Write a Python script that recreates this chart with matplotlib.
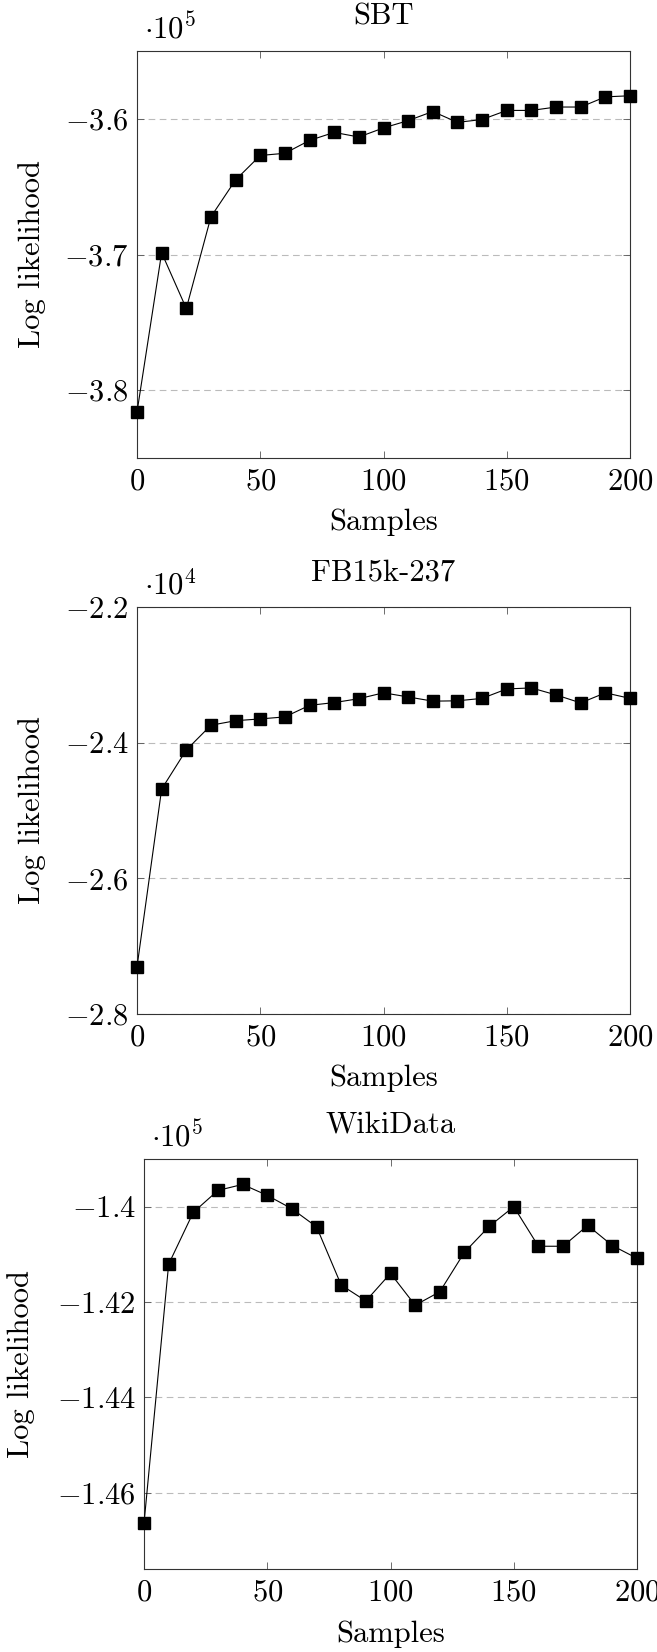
import matplotlib
matplotlib.use("Agg")
import matplotlib.pyplot as plt
from matplotlib.ticker import FixedLocator

# data (values in units of the offset shown at the top)
samples = [0, 10, 20, 30, 40, 50, 60, 70, 80, 90, 100,
           110, 120, 130, 140, 150, 160, 170, 180, 190, 200]

sbt = [-3.8162, -3.6987, -3.7398, -3.6722, -3.6450, -3.6270, -3.6254,
       -3.6159, -3.6100, -3.6134, -3.6067, -3.6013, -3.5946, -3.6026,
       -3.6005, -3.5938, -3.5938, -3.5913, -3.5913, -3.5838, -3.5830]

fb15k = [-2.7306, -2.4684, -2.4108, -2.3743, -2.3676, -2.3650, -2.3620,
         -2.3450, -2.3409, -2.3352, -2.3265, -2.3326, -2.3388, -2.3383,
         -2.3347, -2.3208, -2.3193, -2.3296, -2.3414, -2.3265, -2.3347]

wikidata = [-1.46645, -1.41207, -1.40119, -1.39659, -1.39533, -1.39763,
            -1.40044, -1.40423, -1.41644, -1.41978, -1.41399, -1.42067,
            -1.41785, -1.40956, -1.40415, -1.40000, -1.40830, -1.40830,
            -1.40393, -1.40816, -1.41083]

titles = ["SBT", "FB15k-237", "WikiData"]
offsets = [r"$\cdot 10^5$", r"$\cdot 10^4$", r"$\cdot 10^5$"]
yticks = [[-3.8, -3.7, -3.6],
          [-2.8, -2.6, -2.4, -2.2],
          [-1.46, -1.44, -1.42, -1.40]]
yticklabels = [[r"$-3.8$", r"$-3.7$", r"$-3.6$"],
               [r"$-2.8$", r"$-2.6$", r"$-2.4$", r"$-2.2$"],
               [r"$-1.46$", r"$-1.44$", r"$-1.42$", r"$-1.4$"]]
ylims = [(-3.85, -3.55), (-2.8, -2.2), (-1.476, -1.390)]
xticks = [0, 50, 100, 150, 200]

plt.rcParams['mathtext.fontset'] = 'cm'
plt.rcParams['font.family'] = 'serif'
plt.rcParams['font.serif'] = ['cmr10', 'DejaVu Serif']
plt.rcParams['axes.unicode_minus'] = False

W, H = 657, 1652
fig = plt.figure(figsize=(W / 100, H / 100), dpi=100)

# axes boxes in pixels: left, top, right, bottom
boxes = [(137, 51, 630, 458), (137, 607, 630, 1014), (144, 1159, 637, 1569)]
ylabel_x = [-0.185, -0.185, -0.222]
series = [sbt, fb15k, wikidata]
fs = 22

for i in range(3):
    l, t, r, b = boxes[i]
    ax = fig.add_axes([l / W, 1 - b / H, (r - l) / W, (b - t) / H])
    ax.plot(samples, series[i], color='black', lw=0.8, marker='s',
            ms=9, mfc='black', mec='black', clip_on=False, zorder=3)
    ax.set_xlim(0, 200)
    ax.set_ylim(*ylims[i])
    ax.xaxis.set_major_locator(FixedLocator(xticks))
    ax.set_xticklabels([r"$%d$" % v for v in xticks])
    ax.yaxis.set_major_locator(FixedLocator(yticks[i]))
    ax.set_yticklabels(yticklabels[i])
    ax.tick_params(direction='in', length=5, width=0.6, top=True, right=True,
                   labelsize=fs, color='#555555')
    ax.tick_params(axis='x', pad=7)
    ax.tick_params(axis='y', pad=6)
    ax.grid(axis='y', color='#bbbbbb', ls=(0, (6, 4)), lw=0.8)
    ax.set_axisbelow(True)
    for s in ax.spines.values():
        s.set_linewidth(0.8)
        s.set_color('#333333')
    ax.set_title(titles[i], fontsize=fs, pad=19)
    ax.text(0.015, 1.055, offsets[i], transform=ax.transAxes, fontsize=fs,
            ha='left', va='center')
    ax.set_xlabel("Samples", fontsize=fs)
    ax.xaxis.set_label_coords(0.5, -0.125)
    ax.set_ylabel("Log likelihood", fontsize=fs)
    ax.yaxis.set_label_coords(ylabel_x[i], 0.5)

fig.savefig("out.png", dpi=100)
